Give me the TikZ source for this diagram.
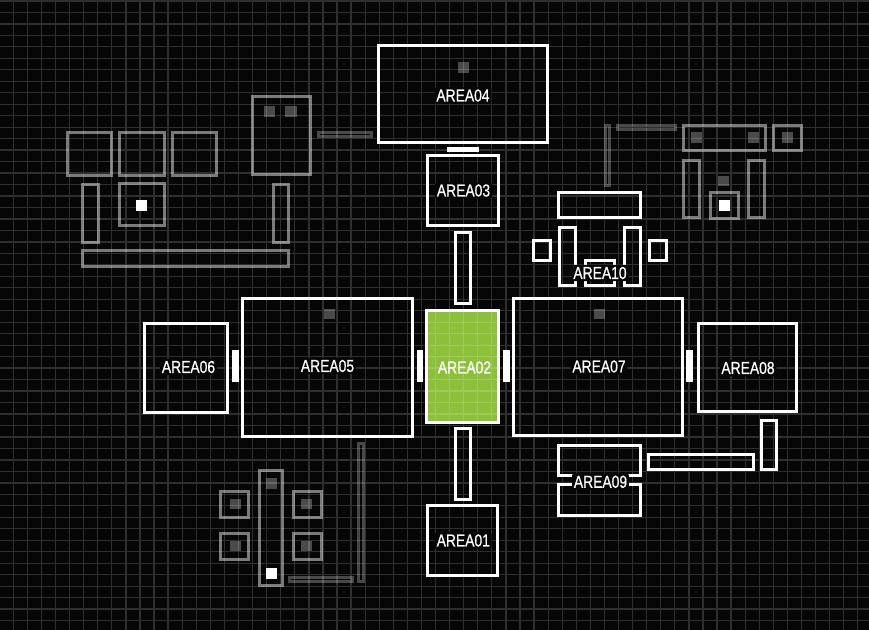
\documentclass[tikz,border=0pt]{standalone}
\usepackage{fontspec}
\setmainfont{Liberation Sans}
\newfontfamily\lblfont{Liberation Sans}[BoldFont={Liberation Sans},BoldFeatures={FakeBold=0.7}]
\usepackage{graphicx}
\definecolor{bg}{HTML}{060606}
\definecolor{wgray}{HTML}{7A7A7A}
\definecolor{dgray}{HTML}{484848}
\definecolor{sqgray}{HTML}{4A4A4A}
\definecolor{areagreen}{HTML}{8CC03A}
\newcommand\orect[5]{\draw[#1] ({#2+1.5},{#3+1.5}) rectangle ({#4-1.5},{#5-1.5});}
\newcommand\frect[5]{\fill[#1] (#2,#3) rectangle (#4,#5);}
\newcommand\lbltext[1]{\scalebox{0.8}[1]{\fontsize{13}{13}\lblfont\bfseries #1}}
\begin{document}
\begin{tikzpicture}[x=0.75pt,y=-0.75pt,
  wbox/.style={draw=white,line width=2.25pt},
  gbox/.style={draw=wgray,line width=2.25pt},
  dbox/.style={draw=dgray,line width=1.9pt},
  wfill/.style={fill=white},
  sqfill/.style={fill=sqgray},
  gridline/.style={draw=white,draw opacity=0.17,line width=0.95pt},
  lblstyle/.style={inner sep=0pt,outer sep=0pt,text=white},
  halolbl/.style={lblstyle,fill=bg,inner xsep=1.3pt,inner ysep=1.5pt,rounded corners=1pt}]
\useasboundingbox (0,0) rectangle (869,630);
\fill[bg] (0,0) rectangle (869,630);

% green active area
\fill[areagreen] (426.5,310.5) rectangle (498.5,422.5);

% white outlined areas
\orect{wbox}{377}{44}{549}{144}
\orect{wbox}{426}{154}{500}{227}
\orect{wbox}{454}{231}{472}{305}
\orect{wbox}{557}{191}{642}{219}
\orect{wbox}{532}{239}{552}{262}
\orect{wbox}{558}{226}{577}{287}
\orect{wbox}{623}{226}{642}{287}
\orect{wbox}{584}{259}{616}{287}
\orect{wbox}{648}{239}{668}{262}
\orect{wbox}{143}{322}{229}{414}
\orect{wbox}{241}{297}{414}{438}
\orect{wbox}{425}{309}{500}{424}
\orect{wbox}{512}{297}{684}{437}
\orect{wbox}{697}{322}{798}{413}
\orect{wbox}{454}{427}{472}{501}
\orect{wbox}{426}{504}{499}{577}
\orect{wbox}{557}{444}{642}{477}
\orect{wbox}{557}{483}{642}{517}
\orect{wbox}{647}{453}{755}{471}
\orect{wbox}{760}{419}{778}{471}

% white door bars
\frect{wfill}{447}{147}{479}{152}
\frect{wfill}{232}{350}{239}{382}
\frect{wfill}{417}{350}{423}{382}
\frect{wfill}{503}{350}{510}{382}
\frect{wfill}{686}{350}{693}{382}

% white small squares
\frect{wfill}{136}{200}{147}{211}
\frect{wfill}{719}{200}{730}{211}
\frect{wfill}{266}{568}{277}{579}

% gray outlined rooms
\orect{gbox}{66}{131}{113}{177}
\orect{gbox}{118}{131}{166}{177}
\orect{gbox}{171}{131}{218}{177}
\orect{gbox}{251}{95}{312}{176}
\orect{gbox}{81}{183}{100}{244}
\orect{gbox}{118}{182}{166}{227}
\orect{gbox}{272}{183}{290}{244}
\orect{gbox}{81}{249}{290}{268}
\orect{gbox}{682}{124}{767}{152}
\orect{gbox}{772}{124}{803}{152}
\orect{gbox}{682}{159}{701}{219}
\orect{gbox}{747}{159}{766}{219}
\orect{gbox}{709}{191}{740}{220}
\orect{gbox}{258}{469}{284}{587}
\orect{gbox}{219}{490}{250}{519}
\orect{gbox}{219}{532}{250}{561}
\orect{gbox}{292}{490}{323}{519}
\orect{gbox}{292}{532}{323}{561}

% darker gray bars
\orect{dbox}{317}{131}{373}{138}
\orect{dbox}{604}{124}{611}{187}
\orect{dbox}{616}{124}{677}{131}
\orect{dbox}{357}{442}{365}{583}
\orect{dbox}{288}{576}{354}{583}

% dark squares
\frect{sqfill}{458}{62}{469}{73}
\frect{sqfill}{324}{309}{335}{319}
\frect{sqfill}{594}{309}{605}{319}
\frect{sqfill}{264}{106}{275}{117}
\frect{sqfill}{285}{106}{297}{117}
\frect{sqfill}{691}{132}{702}{143}
\frect{sqfill}{748}{132}{759}{143}
\frect{sqfill}{782}{132}{793}{143}
\frect{sqfill}{718}{176}{729}{186}
\frect{sqfill}{266}{478}{277}{489}
\frect{sqfill}{230}{499}{241}{509}
\frect{sqfill}{230}{541}{241}{551}
\frect{sqfill}{301}{499}{312}{509}
\frect{sqfill}{301}{541}{312}{551}

% grid
\draw[gridline]
  \foreach \i in {0,...,60}{({13.3+14.075*\i},0) -- ({13.3+14.075*\i},630)}
  \foreach \j in {-1,...,53}{(0,{12.4+11.475*\j}) -- (869,{12.4+11.475*\j})};

% labels
\node[halolbl] (a04) at (463,95.5) {\lbltext{AREA04}};
\node[halolbl] (a03) at (463.5,190.5) {\lbltext{AREA03}};
\node[halolbl] (a10) at (600,273) {\lbltext{AREA10}};
\node[halolbl] (a06) at (188.5,367) {\lbltext{AREA06}};
\node[halolbl] (a05) at (327.5,366) {\lbltext{AREA05}};
\node[lblstyle] (a02) at (464.5,367.5) {\lbltext{AREA02}};
\node[halolbl] (a07) at (599,366.5) {\lbltext{AREA07}};
\node[halolbl] (a08) at (748,368) {\lbltext{AREA08}};
\node[halolbl] (a09) at (600.5,481.8) {\lbltext{AREA09}};
\node[halolbl] (a01) at (463.3,540.5) {\lbltext{AREA01}};
\end{tikzpicture}
\end{document}
